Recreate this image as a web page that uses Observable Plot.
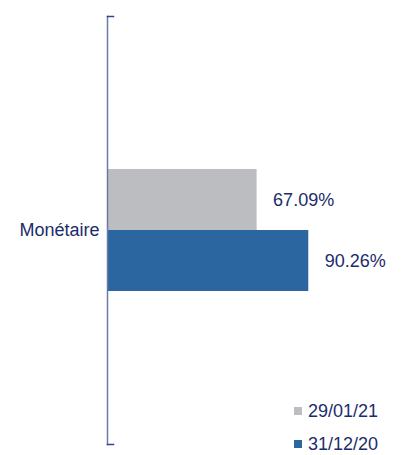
<!DOCTYPE html>
<html>
<head>
<meta charset="utf-8">
<script src="https://cdn.jsdelivr.net/npm/d3@7"></script>
<script src="https://cdn.jsdelivr.net/npm/@observablehq/plot@0.6"></script>
<style>
  html, body { margin: 0; padding: 0; background: #fff; }
  #wrap { position: relative; width: 401px; height: 455px; overflow: hidden; font-family: "Liberation Sans", Arial, sans-serif; }
  #legend { position: absolute; left: 294px; top: 401px; color: #1b2c6b; font-size: 18px; line-height: 20px; }
  .item { display: flex; align-items: center; height: 20px; margin-bottom: 12.5px; }
  .sw { width: 8px; height: 8px; margin-right: 6px; }
</style>
</head>
<body>
<div id="wrap"><div id="legend"></div></div>
<script>
const categories = ["Monétaire"];
const series = ["29/01/21", "31/12/20"];
const values = [67.09, 90.26];
const colors = ["#bcbdc0", "#2c66a1"];

const data = series.map((s, i) => ({category: categories[0], series: s, value: values[i]}));
const navy = "#1b2c6b";

const chart = Plot.plot({
  width: 401,
  height: 455,
  marginLeft: 107,
  marginRight: 71,
  marginTop: 16,
  marginBottom: 11,
  style: {fontFamily: "'Liberation Sans', Arial, sans-serif", background: "white"},
  x: {domain: [0, 100], axis: null},
  y: {domain: series, axis: null, paddingInner: 0, paddingOuter: 2.48},
  color: {domain: series, range: colors},
  marks: [
    Plot.barX(data, {x: "value", y: "series", fill: "series"}),
    Plot.text(data, {x: "value", y: "series", text: d => d.value.toFixed(2) + "%", textAnchor: "start", dx: 16, fill: navy, fontSize: 18}),
    Plot.text(categories, {frameAnchor: "left", text: d => d, textAnchor: "end", dx: -8, fill: navy, fontSize: 18}),
    Plot.frame({anchor: "left", stroke: "#6a7bab", strokeWidth: 1.5}),
    Plot.frame({anchor: "top", stroke: "#2f4690", strokeWidth: 1.5, insetRight: 217}),
    Plot.frame({anchor: "bottom", stroke: "#2f4690", strokeWidth: 1.5, insetRight: 217})
  ]
});
document.getElementById("wrap").prepend(chart);

const legend = document.getElementById("legend");
series.forEach((s, i) => {
  const it = document.createElement("div");
  it.className = "item";
  const sw = document.createElement("div");
  sw.className = "sw";
  sw.style.background = colors[i];
  const t = document.createElement("span");
  t.textContent = s;
  it.appendChild(sw);
  it.appendChild(t);
  legend.appendChild(it);
});
</script>
</body>
</html>
